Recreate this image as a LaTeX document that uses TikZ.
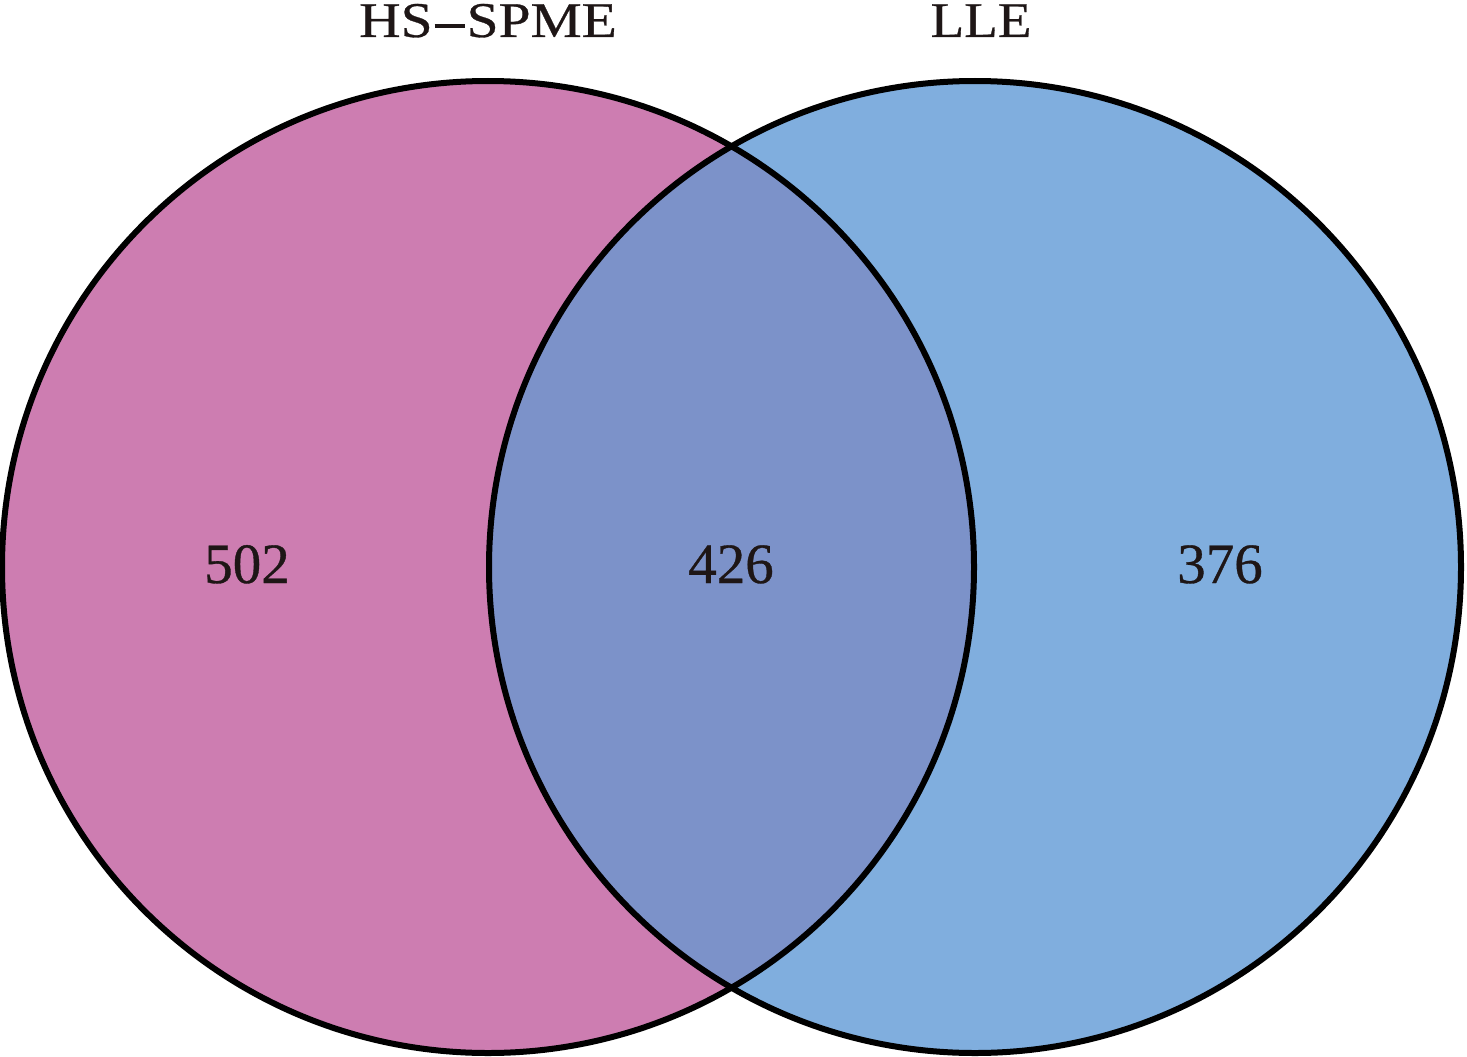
\documentclass[tikz,border=0pt]{standalone}
\usepackage{fontspec}
\setmainfont{Liberation Serif}
\definecolor{pinkset}{RGB}{205,125,177}
\definecolor{blueset}{RGB}{128,174,222}
\definecolor{overlapset}{RGB}{124,146,201}
\definecolor{inktext}{RGB}{30,22,22}
\begin{document}
\begin{tikzpicture}[x=1pt,y=-1pt,
  outline/.style={draw=black,line width=6pt},
  setlabel/.style={text=inktext,font=\fontsize{50}{60}\selectfont,inner sep=0pt,anchor=base},
  countlabel/.style={text=inktext,font=\fontsize{57}{68}\selectfont,inner sep=0pt,anchor=base}]
\useasboundingbox (0,0) rectangle (1467,1057);
\fill[pinkset] (488,567) circle[radius=486];
\fill[blueset] (975,567) circle[radius=486];
\begin{scope}
  \clip (488,567) circle[radius=486];
  \fill[overlapset] (975,567) circle[radius=486];
\end{scope}
\draw[outline] (488,567) circle[radius=486];
\draw[outline] (975,567) circle[radius=486];
\node[setlabel] (tA) at (488,37) {\addfontfeatures{FakeStretch=1.15,FakeBold=0.6}HS\kern2pt\rule[9pt]{30pt}{3.5pt}\kern2pt SPME};
\node[setlabel] (tB) at (981,37) {\addfontfeatures{FakeStretch=1.1,FakeBold=0.6}LLE};
\node[countlabel] (n1) at (247,583) {\addfontfeatures{FakeBold=0.6}502};
\node[countlabel] (n2) at (731,583) {\addfontfeatures{FakeBold=0.6}426};
\node[countlabel] (n3) at (1220,583) {\addfontfeatures{FakeBold=0.6}376};
\end{tikzpicture}
\end{document}
